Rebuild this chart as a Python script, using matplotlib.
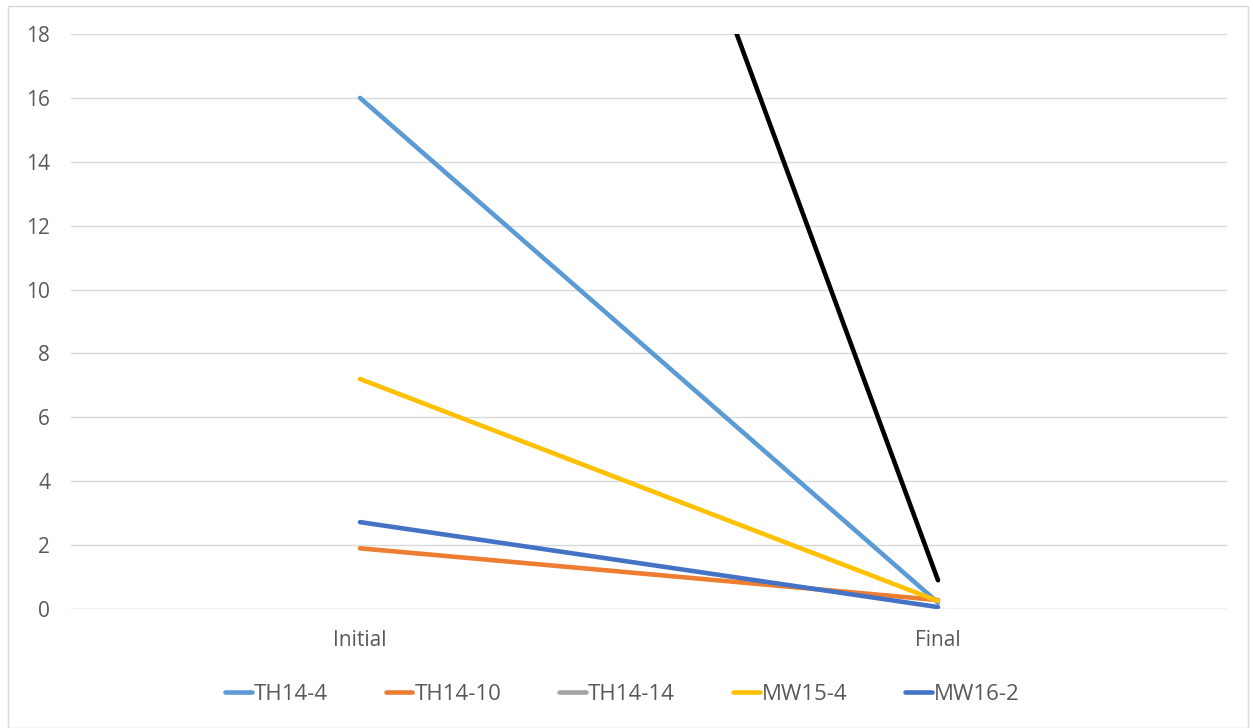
import matplotlib.pyplot as plt
import numpy as np
from matplotlib.patches import Rectangle

plt.rcParams['font.family'] = ['Open Sans', 'DejaVu Sans']

# data
stages = ['Initial', 'Final']
th14_4 = [16.0, 0.2]
th14_10 = [1.9, 0.28]
th14_14 = [np.nan, np.nan]   # listed in the legend, nothing visible in the plot area
mw15_4 = [7.2, 0.25]
mw16_2 = [2.72, 0.06]
unlabeled = [50.0, 0.9]      # black line, not in the legend

series = [
    ('TH14-4', th14_4, '#5B9BD5'),
    ('TH14-10', th14_10, '#ED7D31'),
    ('TH14-14', th14_14, '#A5A5A5'),
    ('MW15-4', mw15_4, '#FFC000'),
    ('MW16-2', mw16_2, '#4472C4'),
]

fig = plt.figure(figsize=(12.53, 7.28), dpi=100)
ax = fig.add_axes([71 / 1253, 119 / 728, 1156 / 1253, 575 / 728])

x = np.arange(len(stages))
for name, vals, color in series:
    ax.plot(x, vals, color=color, lw=3.3, solid_capstyle='round', label=name)
ax.plot(x, unlabeled, color='black', lw=3.3, solid_capstyle='round', label='_nolegend_')

ax.set_xlim(-0.5, 1.5)
ax.set_ylim(0, 18)
ax.set_yticks(np.arange(0, 19, 2))
ax.set_xticks(x)
ax.set_xticklabels(stages)
ax.tick_params(length=0, labelsize=15, labelcolor='#595959')
ax.tick_params(axis='y', pad=15)
ax.tick_params(axis='x', pad=15)
ax.grid(axis='y', color='#D9D9D9', lw=1)
ax.set_axisbelow(True)
for s in ax.spines.values():
    s.set_visible(False)
ax.axhline(0, color='#D9D9D9', lw=1, zorder=0)

ax.legend(loc='center', bbox_to_anchor=(0.477, -0.149), ncol=5, frameon=False,
          fontsize=16, labelcolor='#595959', handlelength=1.2, handletextpad=0.1,
          columnspacing=2.6)

# chart area border
fig.patches.append(Rectangle((8 / 1253, 0), 1240 / 1253, 722 / 728,
                             transform=fig.transFigure, fill=False,
                             edgecolor='#D9D9D9', lw=1))

fig.savefig('out.png', dpi=100)
